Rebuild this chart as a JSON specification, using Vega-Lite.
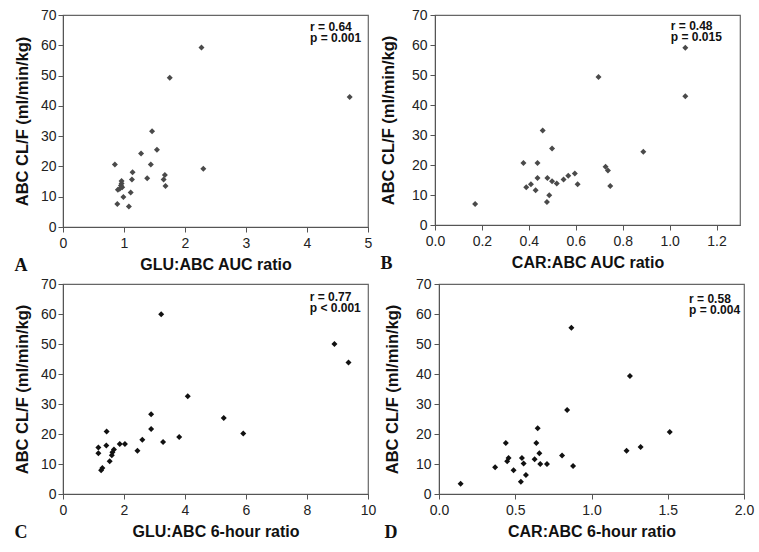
{
  "$schema": "https://vega.github.io/schema/vega-lite/v6.json",
  "background": "white",
  "padding": {"left": 13, "top": 7, "right": 0, "bottom": 0},
  "datasets": {
    "A": [
      {"x": 2.27, "y": 59.3}, {"x": 1.75, "y": 49.3}, {"x": 4.70, "y": 42.9}, {"x": 1.46, "y": 31.6},
      {"x": 1.28, "y": 24.3}, {"x": 1.54, "y": 25.5}, {"x": 0.85, "y": 20.6}, {"x": 1.44, "y": 20.6},
      {"x": 2.30, "y": 19.2}, {"x": 1.14, "y": 18.1}, {"x": 0.96, "y": 15.2}, {"x": 1.13, "y": 15.7},
      {"x": 1.38, "y": 16.1}, {"x": 1.67, "y": 17.2}, {"x": 1.65, "y": 15.7}, {"x": 0.96, "y": 14.4},
      {"x": 0.95, "y": 13.7}, {"x": 0.97, "y": 13.1}, {"x": 0.90, "y": 12.3}, {"x": 0.93, "y": 12.6},
      {"x": 1.68, "y": 13.5}, {"x": 1.11, "y": 11.4}, {"x": 0.99, "y": 9.9}, {"x": 0.89, "y": 7.6},
      {"x": 1.08, "y": 6.8}
    ],
    "B": [
      {"x": 1.067, "y": 59.1}, {"x": 1.067, "y": 42.9}, {"x": 0.697, "y": 49.3}, {"x": 0.459, "y": 31.5},
      {"x": 0.499, "y": 25.5}, {"x": 0.888, "y": 24.4}, {"x": 0.377, "y": 20.7}, {"x": 0.437, "y": 20.7},
      {"x": 0.727, "y": 19.4}, {"x": 0.737, "y": 18.2}, {"x": 0.437, "y": 15.7}, {"x": 0.479, "y": 15.7},
      {"x": 0.499, "y": 14.6}, {"x": 0.519, "y": 13.8}, {"x": 0.548, "y": 15.2}, {"x": 0.568, "y": 16.4},
      {"x": 0.596, "y": 17.2}, {"x": 0.608, "y": 13.6}, {"x": 0.747, "y": 13.0}, {"x": 0.389, "y": 12.6},
      {"x": 0.409, "y": 13.6}, {"x": 0.429, "y": 11.6}, {"x": 0.487, "y": 9.9}, {"x": 0.477, "y": 7.7},
      {"x": 0.171, "y": 7.0}
    ],
    "C": [
      {"x": 3.22, "y": 59.9}, {"x": 8.90, "y": 50.0}, {"x": 9.36, "y": 43.8}, {"x": 4.09, "y": 32.6},
      {"x": 2.89, "y": 26.6}, {"x": 5.27, "y": 25.3}, {"x": 2.89, "y": 21.7}, {"x": 5.91, "y": 20.2},
      {"x": 1.43, "y": 20.8}, {"x": 3.81, "y": 19.0}, {"x": 3.28, "y": 17.3}, {"x": 2.60, "y": 18.1},
      {"x": 1.86, "y": 16.7}, {"x": 2.03, "y": 16.7}, {"x": 1.42, "y": 16.2}, {"x": 1.16, "y": 15.5},
      {"x": 1.16, "y": 13.6}, {"x": 1.67, "y": 14.8}, {"x": 1.62, "y": 13.9}, {"x": 1.60, "y": 12.9},
      {"x": 2.44, "y": 14.4}, {"x": 1.53, "y": 10.9}, {"x": 1.29, "y": 8.7}, {"x": 1.25, "y": 7.9}
    ],
    "D": [
      {"x": 0.868, "y": 55.4}, {"x": 1.252, "y": 39.3}, {"x": 0.840, "y": 28.0}, {"x": 0.647, "y": 21.9},
      {"x": 1.513, "y": 20.7}, {"x": 0.438, "y": 17.0}, {"x": 0.638, "y": 17.0}, {"x": 1.322, "y": 15.7},
      {"x": 1.230, "y": 14.4}, {"x": 0.658, "y": 13.6}, {"x": 0.807, "y": 12.8}, {"x": 0.456, "y": 12.0},
      {"x": 0.544, "y": 12.0}, {"x": 0.627, "y": 11.6}, {"x": 0.447, "y": 10.9}, {"x": 0.555, "y": 10.2},
      {"x": 0.664, "y": 10.0}, {"x": 0.708, "y": 10.0}, {"x": 0.879, "y": 9.3}, {"x": 0.368, "y": 8.9},
      {"x": 0.489, "y": 7.9}, {"x": 0.570, "y": 6.3}, {"x": 0.537, "y": 4.1}, {"x": 0.142, "y": 3.4}
    ]
  },
  "spacing": 0,
  "vconcat": [
    {
      "spacing": 6,
      "hconcat": [
        {
          "width": 305, "height": 212,
          "title": {"text": "A", "orient": "bottom", "anchor": "start", "frame": "bounds", "offset": -15},
          "layer": [
            {
              "data": {"name": "A"},
              "mark": {"type": "point", "shape": "diamond", "filled": true, "size": 36, "color": "#4a4a4a", "opacity": 1},
              "encoding": {
                "x": {"field": "x", "type": "quantitative", "scale": {"domain": [0, 5]},
                      "axis": {"title": "GLU:ABC AUC ratio", "values": [0, 1, 2, 3, 4, 5], "format": "d"}},
                "y": {"field": "y", "type": "quantitative", "scale": {"domain": [0, 70]},
                      "axis": {"title": "ABC CL/F (ml/min/kg)", "values": [0, 10, 20, 30, 40, 50, 60, 70], "format": "d", "titlePadding": 10}}
              }
            },
            {
              "data": {"values": [{}]},
              "mark": {"type": "text", "text": ["r = 0.64", "p = 0.001"], "align": "left", "baseline": "alphabetic", "lineHeight": 11, "fontSize": 12, "fontWeight": "bold", "font": "Liberation Sans", "color": "#111"},
              "encoding": {
                "x": {"datum": 4.05, "type": "quantitative",
                      "axis": {"title": "GLU:ABC AUC ratio", "values": [0, 1, 2, 3, 4, 5], "format": "d"}},
                "y": {"datum": 64.6, "type": "quantitative",
                      "axis": {"title": "ABC CL/F (ml/min/kg)", "values": [0, 10, 20, 30, 40, 50, 60, 70], "format": "d", "titlePadding": 10}}
              }
            }
          ]
        },
        {
          "width": 305, "height": 210,
          "title": {"text": "B", "orient": "bottom", "anchor": "start", "frame": "bounds", "offset": -15},
          "layer": [
            {
              "data": {"name": "B"},
              "mark": {"type": "point", "shape": "diamond", "filled": true, "size": 36, "color": "#4a4a4a", "opacity": 1},
              "encoding": {
                "x": {"field": "x", "type": "quantitative", "scale": {"domain": [0, 1.23]},
                      "axis": {"title": "CAR:ABC AUC ratio", "values": [0, 0.2, 0.4, 0.6, 0.8, 1.0, 1.2], "format": ".1f"}},
                "y": {"field": "y", "type": "quantitative", "scale": {"domain": [0, 70]},
                      "axis": {"title": "ABC CL/F (ml/min/kg)", "values": [0, 10, 20, 30, 40, 50, 60, 70], "format": "d", "labelPadding": 3, "titlePadding": 15}}
              }
            },
            {
              "data": {"values": [{}]},
              "mark": {"type": "text", "text": ["r = 0.48", "p = 0.015"], "align": "left", "baseline": "alphabetic", "lineHeight": 11, "fontSize": 12, "fontWeight": "bold", "font": "Liberation Sans", "color": "#111"},
              "encoding": {
                "x": {"datum": 1.005, "type": "quantitative",
                      "axis": {"title": "CAR:ABC AUC ratio", "values": [0, 0.2, 0.4, 0.6, 0.8, 1.0, 1.2], "format": ".1f"}},
                "y": {"datum": 65.1, "type": "quantitative",
                      "axis": {"title": "ABC CL/F (ml/min/kg)", "values": [0, 10, 20, 30, 40, 50, 60, 70], "format": "d", "labelPadding": 3, "titlePadding": 15}}
              }
            }
          ]
        }
      ]
    },
    {
      "spacing": 6,
      "hconcat": [
        {
          "width": 305, "height": 210,
          "title": {"text": "C", "orient": "bottom", "anchor": "start", "frame": "bounds", "offset": -15},
          "layer": [
            {
              "data": {"name": "C"},
              "mark": {"type": "point", "shape": "diamond", "filled": true, "size": 36, "color": "#111111", "opacity": 1},
              "encoding": {
                "x": {"field": "x", "type": "quantitative", "scale": {"domain": [0, 10]},
                      "axis": {"title": "GLU:ABC 6-hour ratio", "values": [0, 2, 4, 6, 8, 10], "format": "d"}},
                "y": {"field": "y", "type": "quantitative", "scale": {"domain": [0, 70]},
                      "axis": {"title": "ABC CL/F (ml/min/kg)", "values": [0, 10, 20, 30, 40, 50, 60, 70], "format": "d", "titlePadding": 10}}
              }
            },
            {
              "data": {"values": [{}]},
              "mark": {"type": "text", "text": ["r = 0.77", "p < 0.001"], "align": "left", "baseline": "alphabetic", "lineHeight": 11, "fontSize": 12, "fontWeight": "bold", "font": "Liberation Sans", "color": "#111"},
              "encoding": {
                "x": {"datum": 8.09, "type": "quantitative",
                      "axis": {"title": "GLU:ABC 6-hour ratio", "values": [0, 2, 4, 6, 8, 10], "format": "d"}},
                "y": {"datum": 64.5, "type": "quantitative",
                      "axis": {"title": "ABC CL/F (ml/min/kg)", "values": [0, 10, 20, 30, 40, 50, 60, 70], "format": "d", "titlePadding": 10}}
              }
            }
          ]
        },
        {
          "width": 305, "height": 210,
          "title": {"text": "D", "orient": "bottom", "anchor": "start", "frame": "bounds", "offset": -15},
          "layer": [
            {
              "data": {"name": "D"},
              "mark": {"type": "point", "shape": "diamond", "filled": true, "size": 36, "color": "#111111", "opacity": 1},
              "encoding": {
                "x": {"field": "x", "type": "quantitative", "scale": {"domain": [0, 2]},
                      "axis": {"title": "CAR:ABC 6-hour ratio", "values": [0, 0.5, 1.0, 1.5, 2.0], "format": ".1f"}},
                "y": {"field": "y", "type": "quantitative", "scale": {"domain": [0, 70]},
                      "axis": {"title": "ABC CL/F (ml/min/kg)", "values": [0, 10, 20, 30, 40, 50, 60, 70], "format": "d", "labelPadding": 3, "titlePadding": 15}}
              }
            },
            {
              "data": {"values": [{}]},
              "mark": {"type": "text", "text": ["r = 0.58", "p = 0.004"], "align": "left", "baseline": "alphabetic", "lineHeight": 11, "fontSize": 12, "fontWeight": "bold", "font": "Liberation Sans", "color": "#111"},
              "encoding": {
                "x": {"datum": 1.64, "type": "quantitative",
                      "axis": {"title": "CAR:ABC 6-hour ratio", "values": [0, 0.5, 1.0, 1.5, 2.0], "format": ".1f"}},
                "y": {"datum": 63.8, "type": "quantitative",
                      "axis": {"title": "ABC CL/F (ml/min/kg)", "values": [0, 10, 20, 30, 40, 50, 60, 70], "format": "d", "labelPadding": 3, "titlePadding": 15}}
              }
            }
          ]
        }
      ]
    }
  ],
  "config": {
    "view": {"stroke": "#666666", "strokeWidth": 1.2},
    "axis": {
      "grid": false,
      "domainColor": "#555555",
      "tickColor": "#555555",
      "tickSize": 5,
      "labelPadding": 4,
      "labelFont": "Liberation Sans",
      "labelFontSize": 14,
      "labelColor": "#222222",
      "labelFlush": false,
      "labelOverlap": false,
      "titleFont": "Liberation Sans",
      "titleFontSize": 16,
      "titleFontWeight": "bold",
      "titleColor": "#111111"
    },
    "axisX": {"titlePadding": 6},
    "axisY": {"labelPadding": 2, "titleFontSize": 16.5},
    "title": {"font": "Liberation Serif", "fontSize": 18, "fontWeight": "bold", "color": "#111111"}
  }
}
